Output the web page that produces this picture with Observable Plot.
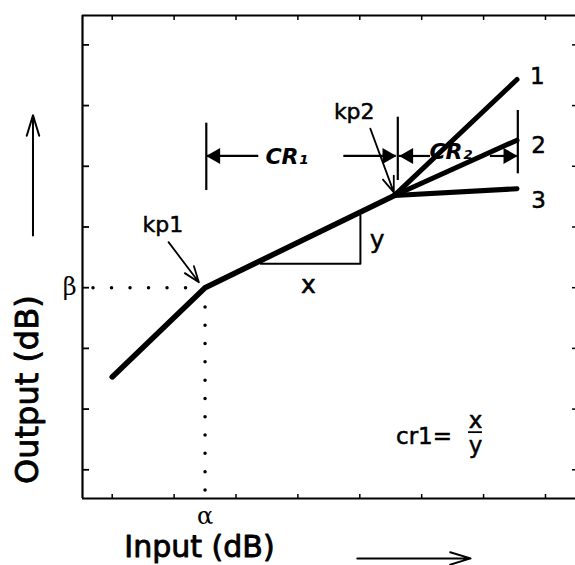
<!DOCTYPE html>
<html><head><meta charset="utf-8">
<script src="https://cdn.jsdelivr.net/npm/d3@7"></script>
<script src="https://cdn.jsdelivr.net/npm/@observablehq/plot@0.6"></script>
<style>html,body{margin:0;padding:0;background:#fff;} svg{display:block}</style>
</head><body><div id="chart"></div>
<script>
// ---- axes (tick units) ----
const xTicks = [1, 2, 3, 4, 5, 6, 7, 8];
const yTicks = [1, 2, 3, 4, 5, 6, 7, 8];
const xDomain = [0.52, 8.485];
const yDomain = [0.527, 8.484];
const alpha = 2.5;
const beta = 4.0;

// ---- compressor input/output curve ----
const curveX = [1.0, 2.5, 5.56];
const curveY = [2.53, 4.0, 5.52];
const branchNames = ["1", "2", "3"];
const branchEndX = [7.54, 7.54, 7.54];
const branchEndY = [7.43, 6.43, 5.63];
const branchLabelX = [7.87, 7.89, 7.89];
const branchLabelY = [7.47, 6.34, 5.44];

// ---- slope triangle ----
const triX = [3.40, 5.01, 5.01];
const triY = [4.394, 4.394, 5.19];
const triLabels = ["x", "y"];
const triLabelX = [4.17, 5.28];
const triLabelY = [4.04, 4.78];

// ---- CR brackets ----
const barX = [2.52, 5.614, 7.553];
const barY1 = [5.60, 5.766, 5.876];
const barY2 = [6.71, 6.809, 6.919];
const crArrowY = 6.17;
const crFrom = [3.368, 4.742, 6.142, 7.111];
const crTo = [2.523, 5.588, 5.641, 7.543];
const crLabels = ["CR\u2081", "CR\u2082"];
const crLabelX = [3.82, 6.47];
const crLabelY = [6.16, 6.23];

// ---- knee-point pointers ----
const kpLabels = ["kp1", "kp2"];
const kpLabelX = [1.82, 4.91];
const kpLabelY = [5.04, 6.89];
const kpFromX = [1.91, 5.17];
const kpFromY = [4.75, 6.62];
const kpToX = [2.40, 5.55];
const kpToY = [4.09, 5.57];

// ---- direction arrows & axis titles ----
const dirArrowX1 = [-0.28, 4.96];
const dirArrowY1 = [4.86, -0.46];
const dirArrowX2 = [-0.28, 6.79];
const dirArrowY2 = [6.84, -0.46];
const titleX = ["Input (dB)"];
const titleXPos = [2.41, -0.28];
const titleY = ["Output (dB)"];
const titleYPos = [-0.37, 2.32];

// ---- ratio formula ----
const formulaText = "cr1=";
const formulaPos = [6.49, 1.55];
const fracNum = "x", fracDen = "y";
const fracX = 6.87;
const fracNumY = 1.81, fracBarY = 1.62, fracDenY = 1.40;
const fracBarX = [6.756, 6.982];

// ---- build tables ----
const curve = curveX.map((x, i) => ({x, y: curveY[i]}));
const branches = branchNames.flatMap((b, i) => [
  {b, x: curveX[2], y: curveY[2]},
  {b, x: branchEndX[i], y: branchEndY[i]}
]);
const branchLabels = branchNames.map((t, i) => ({t, x: branchLabelX[i], y: branchLabelY[i]}));
const tri = triX.map((x, i) => ({x, y: triY[i]}));
const triText = triLabels.map((t, i) => ({t, x: triLabelX[i], y: triLabelY[i]}));
const bars = barX.map((x, i) => ({x, y1: barY1[i], y2: barY2[i]}));
const crArrows = crFrom.map((x1, i) => ({x1, x2: crTo[i], y: crArrowY, dir: Math.sign(crTo[i] - x1)}));
const crText = crLabels.map((t, i) => ({t, x: crLabelX[i], y: crLabelY[i]}));
const kpText = kpLabels.map((t, i) => ({t, x: kpLabelX[i], y: kpLabelY[i]}));
const kpArrows = kpLabels.map((t, i) => ({x1: kpFromX[i], y1: kpFromY[i], x2: kpToX[i], y2: kpToY[i]}));
const dirArrows = dirArrowX1.map((x1, i) => ({x1, y1: dirArrowY1[i], x2: dirArrowX2[i], y2: dirArrowY2[i]}));

const font = "DejaVu Sans";
const ink = {fill: "black", stroke: "black", strokeWidth: 0.5};   // scanned-print weight
const inkHeavy = {fill: "black", stroke: "black", strokeWidth: 0.9};

const chart = Plot.plot({
  width: 575,
  height: 565,
  marginLeft: 82,
  marginRight: 0,
  marginTop: 15,
  marginBottom: 67,
  style: {fontFamily: font, background: "white", color: "black"},
  x: {domain: xDomain},
  y: {domain: yDomain},
  marks: [
    // frame: left, top, bottom
    Plot.ruleX([xDomain[0]], {strokeWidth: 2.2}),
    Plot.ruleY([yDomain[1]], {strokeWidth: 2.2}),
    Plot.ruleY([yDomain[0]], {strokeWidth: 2.2}),
    // inward ticks
    Plot.axisY(yTicks, {anchor: "left", tickSize: -7, tickFormat: () => "", strokeWidth: 1.8, label: null}),
    Plot.axisY(yTicks, {anchor: "right", tickSize: -4, tickFormat: () => "", strokeWidth: 1.5, label: null}),
    Plot.axisX(xTicks, {anchor: "bottom", tickSize: -4, tickFormat: () => "", strokeWidth: 1.5, label: null}),
    Plot.axisX(xTicks, {anchor: "top", tickSize: -4, tickFormat: () => "", strokeWidth: 1.5, label: null}),
    // alpha / beta tick labels
    Plot.axisX([alpha], {anchor: "bottom", tickSize: 0, tickPadding: 8, tickFormat: () => "\u03b1", fontSize: 24, fontFamily: "DejaVu Serif", label: null}),
    Plot.axisY([beta], {anchor: "left", tickSize: 0, tickPadding: 6, tickFormat: () => "\u03b2", fontSize: 24, fontFamily: "DejaVu Serif", label: null}),
    // dotted guide lines
    Plot.ruleY([beta], {x1: 0.698, x2: 2.21, strokeWidth: 3.5, strokeDasharray: "0 18.5", strokeLinecap: "round"}),
    Plot.ruleX([alpha], {y1: 3.674, y2: 0.64, strokeWidth: 3.5, strokeDasharray: "0 18.3", strokeLinecap: "round"}),
    // curve
    Plot.line(curve, {x: "x", y: "y", strokeWidth: 5.5, strokeLinecap: "round", strokeLinejoin: "round"}),
    Plot.line(branches, {x: "x", y: "y", z: "b", strokeWidth: 5, strokeLinecap: "round"}),
    Plot.text(branchLabels, {x: "x", y: "y", text: "t", fontSize: 23, lineAnchor: "middle", ...ink}),
    // slope triangle
    Plot.line(tri, {x: "x", y: "y", strokeWidth: 2}),
    Plot.text(triText, {x: "x", y: "y", text: "t", fontSize: 25, lineAnchor: "middle", ...ink}),
    // brackets
    Plot.ruleX(bars, {x: "x", y1: "y1", y2: "y2", strokeWidth: 2.2}),
    Plot.ruleY(crArrows, {y: "y", x1: "x1", x2: "x2", strokeWidth: 2.2}),
    Plot.dot(crArrows.filter(d => d.dir < 0), {x: "x2", y: "y", symbol: "triangle", r: 6, rotate: -90, dx: 9, fill: "black", stroke: "none"}),
    Plot.dot(crArrows.filter(d => d.dir > 0), {x: "x2", y: "y", symbol: "triangle", r: 6, rotate: 90, dx: -9, fill: "black", stroke: "none"}),
    Plot.text(crText, {x: "x", y: "y", text: "t", fontSize: 22, fontStyle: "italic", fontWeight: "bold", lineAnchor: "middle", fill: "black"}),
    // knee point pointers
    Plot.arrow(kpArrows, {x1: "x1", y1: "y1", x2: "x2", y2: "y2", strokeWidth: 1.8, headLength: 14, headAngle: 40}),
    Plot.text(kpText, {x: "x", y: "y", text: "t", fontSize: 22, lineAnchor: "middle", ...ink}),
    // formula
    Plot.text([formulaText], {x: formulaPos[0], y: formulaPos[1], text: d => d, fontSize: 23, textAnchor: "end", lineAnchor: "middle", ...ink}),
    Plot.text([fracNum], {x: fracX, y: fracNumY, text: d => d, fontSize: 23, lineAnchor: "middle", ...ink}),
    Plot.text([fracDen], {x: fracX, y: fracDenY, text: d => d, fontSize: 23, lineAnchor: "middle", ...ink}),
    Plot.ruleY([fracBarY], {x1: fracBarX[0], x2: fracBarX[1], strokeWidth: 1.8}),
    // direction arrows
    Plot.arrow(dirArrows, {x1: "x1", y1: "y1", x2: "x2", y2: "y2", strokeWidth: 2, headLength: 16, headAngle: 34, clip: false}),
    // axis titles
    Plot.text(titleX, {x: titleXPos[0], y: titleXPos[1], text: d => d, fontSize: 30, lineAnchor: "middle", clip: false, ...inkHeavy}),
    Plot.text(titleY, {x: titleYPos[0], y: titleYPos[1], text: d => d, fontSize: 32, rotate: -90, lineAnchor: "middle", clip: false, ...inkHeavy})
  ]
});
document.getElementById("chart").appendChild(chart);
</script>
</body></html>
